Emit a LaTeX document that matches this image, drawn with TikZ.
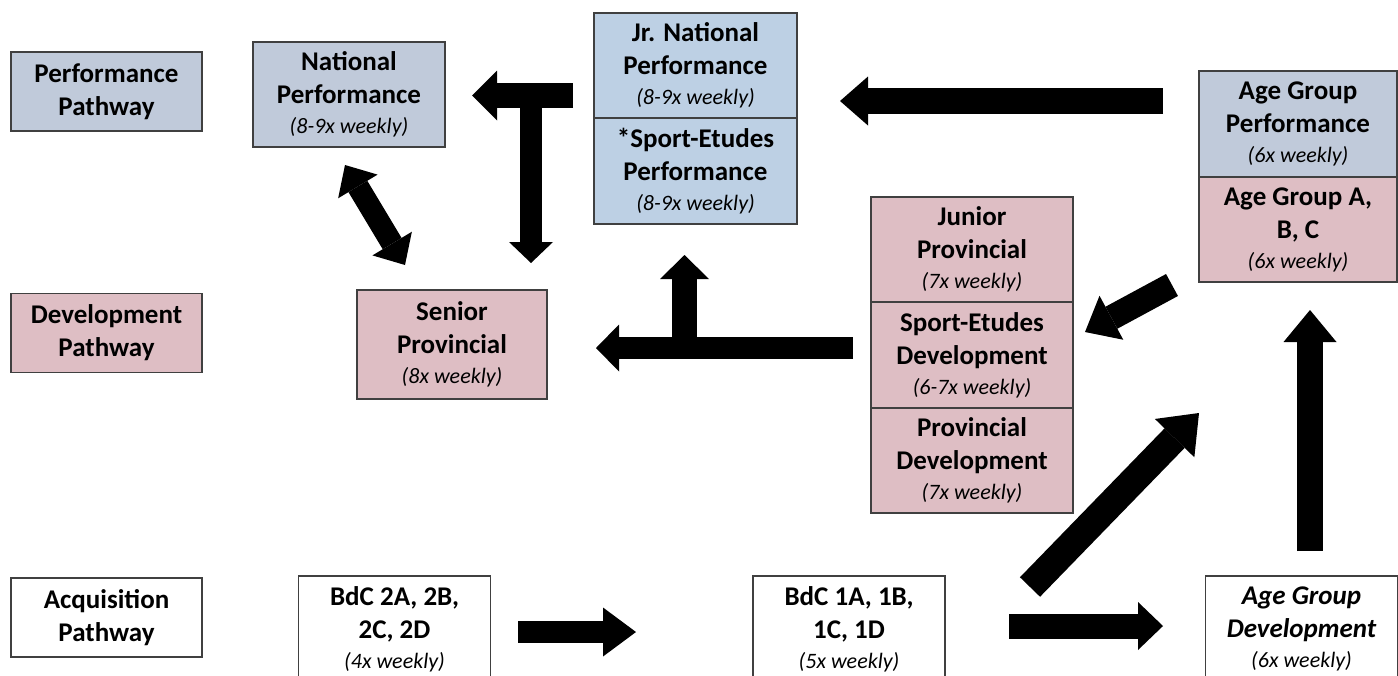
\documentclass[tikz,border=0pt]{standalone}
\usepackage{fontspec}
\setmainfont{Carlito}
\usetikzlibrary{arrows.meta,positioning}
\definecolor{pathgray}{RGB}{192,202,218}
\definecolor{jrblue}{RGB}{189,208,228}
\definecolor{devpink}{RGB}{222,190,196}
\definecolor{boxline}{RGB}{64,64,64}
\newcommand{\weekly}[1]{\\[-3pt]{\fontsize{22}{26}\selectfont\mdseries\itshape(#1 weekly)}}

\begin{document}
\begin{tikzpicture}[x=1pt,y=-1pt,line width=1.2pt,
  stage/.style={draw=boxline,outer sep=0pt,inner sep=1pt,align=center,minimum width=192pt,minimum height=105pt,font=\fontsize{27}{33}\selectfont\bfseries},
  lane/.style={stage,minimum width=191pt,minimum height=79pt},
  flow/.style n args={3}{line width=#1,-{Triangle[length=#3,width=#2,line width=0pt]}},
  twoway/.style n args={3}{line width=#1,{Triangle[length=#3,width=#2,line width=0pt]}-{Triangle[length=#3,width=#2,line width=0pt]}}]
\path[use as bounding box] (0,0) rectangle (1398,675);
% pathway labels
\node[lane,fill=pathgray] (perf) at (106.5,91.5) {Performance\\Pathway};
\node[lane,fill=devpink] (dev) at (106.5,333) {Development\\Pathway};
\node[lane,fill=white] (acq) at (106.5,617.5) {Acquisition\\Pathway};
% performance groups
\node[stage,fill=pathgray] (natperf) at (349,94.5) {National\\Performance\weekly{8-9x}};
\node[stage,fill=jrblue,minimum width=203pt] (jrnat) at (695.5,65.5) {Jr. National\\Performance\weekly{8-9x}};
\node[stage,fill=jrblue,minimum width=203pt,minimum height=106pt,below=0pt of jrnat] (seperf) {*Sport-Etudes\\Performance\weekly{8-9x}};
\node[stage,fill=pathgray,minimum width=198pt,minimum height=106pt] (agperf) at (1298,124) {Age Group\\Performance\weekly{6x}};
% development groups
\node[stage,fill=devpink,minimum width=198pt,below=0pt of agperf] (agabc) {Age Group A,\\B, C\weekly{6x}};
\node[stage,fill=devpink,minimum width=190pt,minimum height=109pt] (senprov) at (452,344.5) {Senior\\Provincial\weekly{8x}};
\node[stage,fill=devpink,minimum width=202pt] (junprov) at (972,249.5) {Junior\\Provincial\weekly{7x}};
\node[stage,fill=devpink,minimum width=202pt,minimum height=106pt,below=0pt of junprov] (sedev) {Sport-Etudes\\Development\weekly{6-7x}};
\node[stage,fill=devpink,minimum width=202pt,below=0pt of sedev] (provdev) {Provincial\\Development\weekly{7x}};
% acquisition groups
\node[stage,fill=white,minimum height=106pt] (bdctwo) at (394.5,629) {BdC 2A, 2B,\\2C, 2D\weekly{4x}};
\node[stage,fill=white,minimum height=106pt] (bdcone) at (849,629) {BdC 1A, 1B,\\1C, 1D\weekly{5x}};
\node[stage,fill=white,minimum height=106pt,font=\fontsize{27}{33}\selectfont\bfseries\itshape] (agdev) at (1301.5,629) {Age Group\\Development\weekly{6x}};
% arrow ends
\coordinate (agperfout) at (1163,101);
\coordinate (jrnatin) at (840,101);
\coordinate (jrnatout) at (573,95.5);
\coordinate (natin) at (472,95.5);
\coordinate (stemtop) at (531,83);
\coordinate (senin) at (531,263);
\coordinate (natlow) at (345,165);
\coordinate (senhigh) at (405,265);
\coordinate (sedevout) at (853,348);
\coordinate (senright) at (596,348);
\coordinate (branch) at (684.5,348);
\coordinate (seperfin) at (684.5,255);
\coordinate (agabcout) at (1172,285);
\coordinate (sedevin) at (1085,332);
\coordinate (bdconeup) at (1030,587);
\coordinate (agabcin) at (1199,413);
\coordinate (agdevup) at (1310,551);
\coordinate (agabclow) at (1310,310);
\coordinate (bdctwoout) at (518,632);
\coordinate (bdconein) at (636,632);
\coordinate (bdconeout) at (1009,626);
\coordinate (agdevin) at (1163,626);
% arrows
\draw[flow={26pt}{49pt}{28pt}] (agperfout) -- (jrnatin);
\draw[flow={25pt}{50pt}{25pt}] (jrnatout) -- (natin);
\draw[flow={22pt}{44pt}{21pt}] (stemtop) -- (senin);
\draw[twoway={22pt}{46pt}{25pt}] (natlow) -- (senhigh);
\draw[flow={22pt}{47pt}{23pt}] (sedevout) -- (senright);
\draw[flow={25pt}{49pt}{24pt}] (branch) -- (seperfin);
\draw[flow={25pt}{50pt}{30pt}] (agabcout) -- (sedevin);
\draw[flow={28pt}{55pt}{35pt}] (bdconeup) -- (agabcin);
\draw[flow={26pt}{53pt}{32pt}] (agdevup) -- (agabclow);
\draw[flow={22pt}{49pt}{33pt}] (bdctwoout) -- (bdconein);
\draw[flow={25pt}{48pt}{25pt}] (bdconeout) -- (agdevin);
\end{tikzpicture}
\end{document}
